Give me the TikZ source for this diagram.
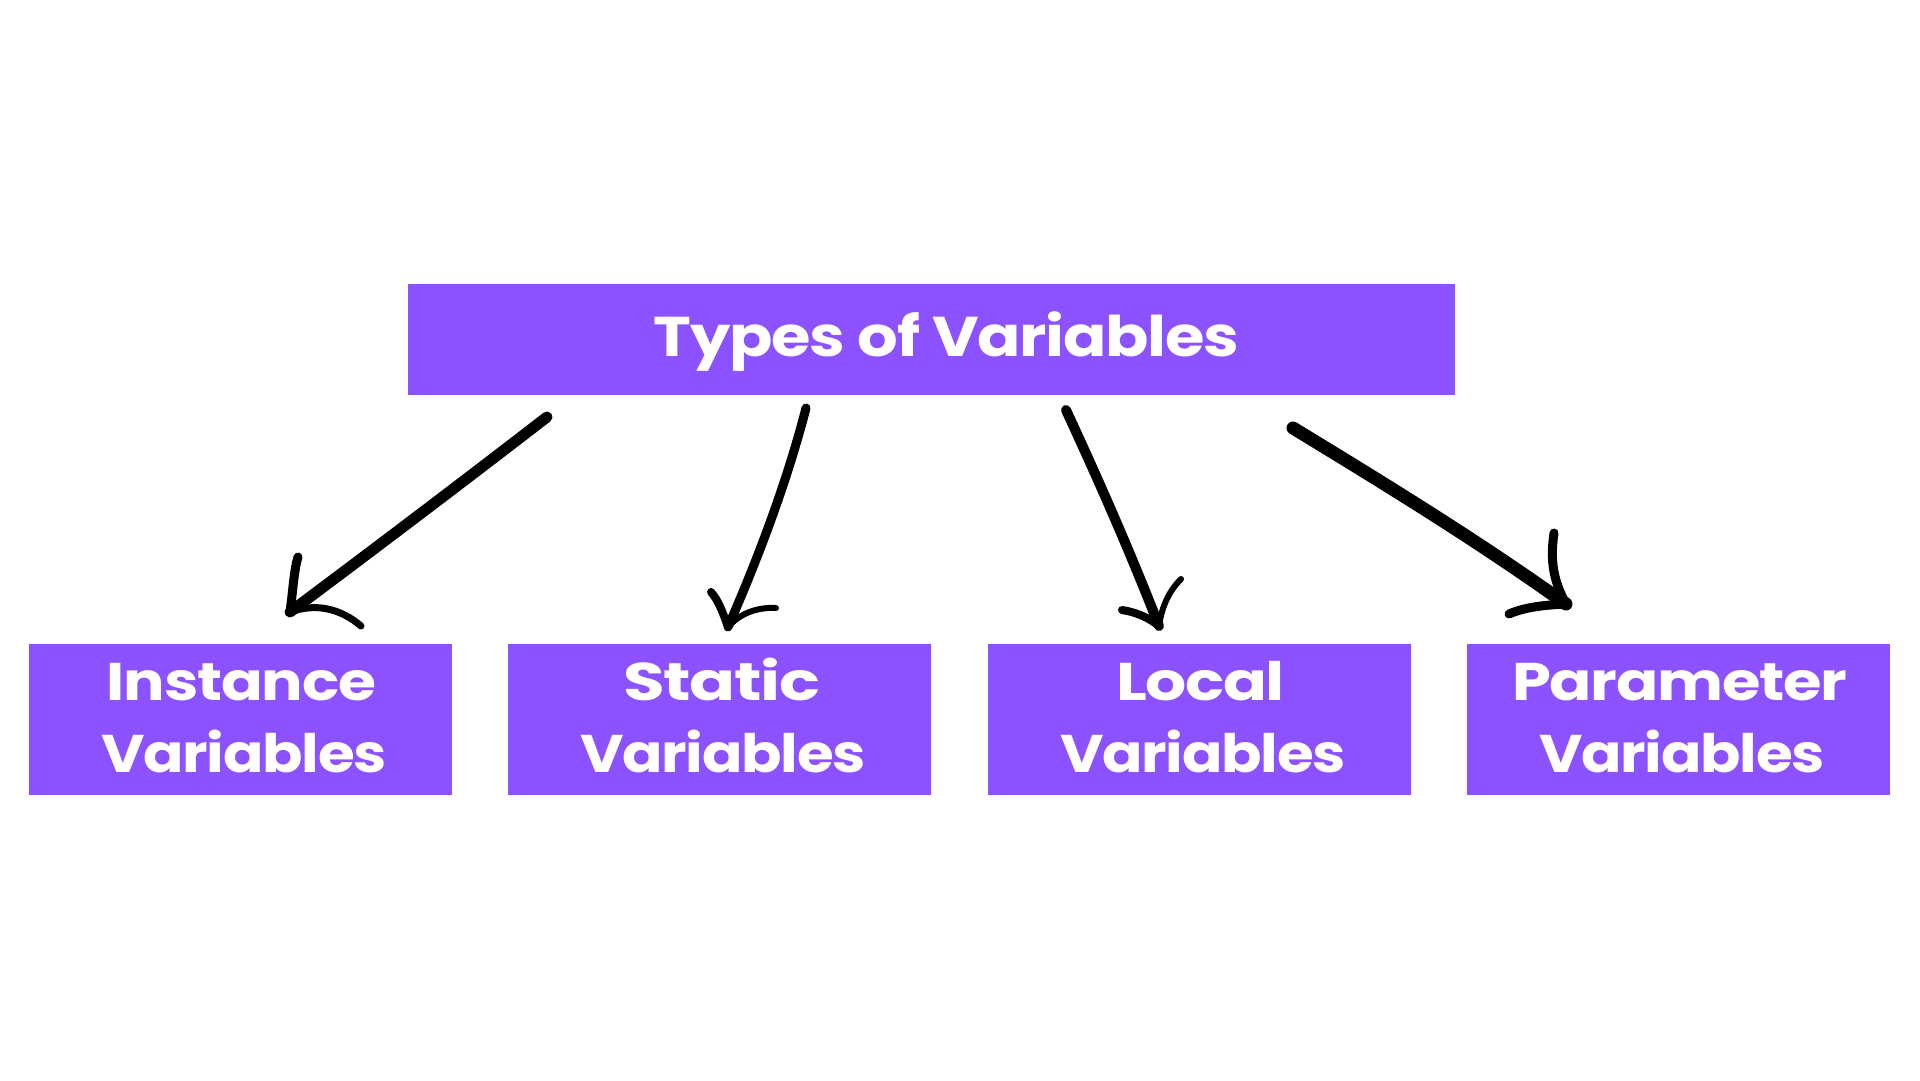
\documentclass[tikz,border=0pt]{standalone}
\usepackage{fontspec}
\usepackage{graphicx}
\newfontfamily\pop{Poppins}[LetterSpace=-2]
\definecolor{vpurple}{HTML}{8C52FF}
\tikzset{
  box/.style={fill=vpurple, draw=none, inner sep=0pt, minimum width=423pt, minimum height=151pt},
  topbox/.style={fill=vpurple, draw=none, inner sep=0pt, minimum width=1047pt, minimum height=111pt},
  lbl/.style={anchor=base, inner sep=0pt, text=white},
  brush/.style={draw=black, line cap=round, line join=round},
}
\newcommand{\ttl}[2]{\resizebox{#1pt}{\height}{\pop\bfseries #2}}
\begin{document}
\begin{tikzpicture}[x=1pt,y=-1pt]
\useasboundingbox (0,0) rectangle (1920,1080);
\fill[white] (0,0) rectangle (1920,1080);

% boxes
\node[topbox] (top) at (931.5,339.5) {};
\node[box] (b1) at (240.5,719.5) {};
\node[box] (b2) at (719.5,719.5) {};
\node[box] (b3) at (1199.5,719.5) {};
\node[box] (b4) at (1678.5,719.5) {};

% texts
\node[lbl, font=\fontsize{56}{60}\selectfont] (tt) at (946.5,356) {\ttl{585}{Types of Variables}};
\node[lbl, font=\fontsize{53}{60}\selectfont] (l1a) at (241.5,700) {\ttl{269}{Instance}};
\node[lbl, font=\fontsize{53}{60}\selectfont] (l1b) at (244,772) {\ttl{286}{Variables}};
\node[lbl, font=\fontsize{53}{60}\selectfont] (l2a) at (721.5,700) {\ttl{197}{Static}};
\node[lbl, font=\fontsize{53}{60}\selectfont] (l2b) at (723,772) {\ttl{286}{Variables}};
\node[lbl, font=\fontsize{53}{60}\selectfont] (l3a) at (1200.5,700) {\ttl{169}{Local}};
\node[lbl, font=\fontsize{53}{60}\selectfont] (l3b) at (1203,772) {\ttl{286}{Variables}};
\node[lbl, font=\fontsize{53}{60}\selectfont] (l4a) at (1679.5,700) {\ttl{335}{Parameter}};
\node[lbl, font=\fontsize{53}{60}\selectfont] (l4b) at (1682,772) {\ttl{286}{Variables}};

% arrow end points
\coordinate (a1s) at (547,417);
\coordinate (a1t) at (290,612);
\coordinate (a2s) at (806,408);
\coordinate (a2t) at (728,627);
\coordinate (a3s) at (1066,410);
\coordinate (a3t) at (1159,626);
\coordinate (a4s) at (1293,428);
\coordinate (a4t) at (1566,604);

% arrow 1
\draw[brush, line width=11pt] (a1s) .. controls (468,478) and (377,547) .. (a1t);
\draw[brush, line width=9pt] (a1t) .. controls (293,590) and (294,570) .. (298,557);
\draw[brush, line width=7pt] (a1t) .. controls (315,603) and (340,608) .. (361,626);

% arrow 2
\draw[brush, line width=9pt] (a2s) .. controls (788,478) and (760,554) .. (a2t);
\draw[brush, line width=8pt] (a2t) .. controls (722,610) and (718,600) .. (711,592);
\draw[brush, line width=6pt] (a2t) .. controls (740,613) and (758,607) .. (776,608);

% arrow 3
\draw[brush, line width=10pt] (a3s) .. controls (1099,481) and (1131,554) .. (a3t);
\draw[brush, line width=8pt] (a3t) .. controls (1148,617) and (1135,612) .. (1122,610);
\draw[brush, line width=6pt] (a3t) .. controls (1162,605) and (1170,590) .. (1181,579);

% arrow 4
\draw[brush, line width=13pt] (a4s) .. controls (1385,484) and (1478,541) .. (a4t);
\draw[brush, line width=9pt] (a4t) .. controls (1553,580) and (1550,560) .. (1554,533);
\draw[brush, line width=9pt] (a4t) .. controls (1545,605) and (1525,607) .. (1509,614);
\end{tikzpicture}
\end{document}
